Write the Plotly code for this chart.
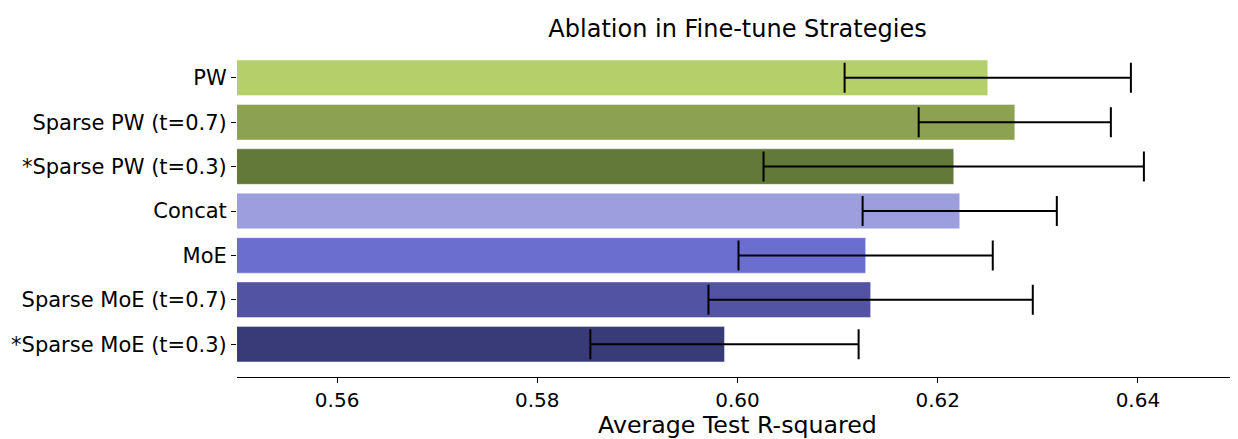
import plotly.graph_objects as go

categories = ["PW", "Sparse PW (t=0.7)", "*Sparse PW (t=0.3)", "Concat", "MoE",
              "Sparse MoE (t=0.7)", "*Sparse MoE (t=0.3)"]
means = [0.6250, 0.6277, 0.6216, 0.6222, 0.6128, 0.6133, 0.5987]
errors = [0.0143, 0.0096, 0.0190, 0.0097, 0.0127, 0.0162, 0.0134]
colors = ["#b5cf6b", "#8ca252", "#637939", "#9c9ede", "#6b6ecf", "#5254a3", "#393b79"]
x_ticks = [0.56, 0.58, 0.60, 0.62, 0.64]
x_tick_labels = ["0.56", "0.58", "0.60", "0.62", "0.64"]

FONT = "DejaVu Sans"

fig = go.Figure()
fig.add_trace(go.Bar(
    y=list(range(len(categories))),
    x=means,
    orientation="h",
    width=0.8,
    marker=dict(color=colors, line=dict(width=0.8, color="rgba(255,255,255,0.5)")),
    error_x=dict(type="data", array=errors, visible=True, color="black",
                 thickness=2, width=15),
    showlegend=False,
))

fig.update_layout(
    width=1230, height=431,
    margin=dict(l=229, r=0, t=37, b=62),
    plot_bgcolor="white", paper_bgcolor="white",
    font=dict(family=FONT, color="black", size=20),
    title=dict(text="Ablation in Fine-tune Strategies", x=0.5931, xanchor="center",
               y=0.952, yanchor="middle", font=dict(size=24, family=FONT)),
    bargap=0.2,
)
fig.update_xaxes(
    range=[0.55, 0.65], tickvals=x_ticks, ticktext=x_tick_labels,
    showline=True, linecolor="black", linewidth=1.2,
    ticks="outside", ticklen=5, tickwidth=1.2, tickcolor="black",
    showgrid=False, zeroline=False,
    tickfont=dict(size=20, family=FONT),
    title=dict(text="Average Test R-squared", font=dict(size=23.7, family=FONT), standoff=4),
)
fig.update_yaxes(
    range=[6.74, -0.74], tickvals=list(range(len(categories))), ticktext=categories,
    showline=False, ticks="outside", ticklen=5, tickwidth=1.2, tickcolor="black",
    showgrid=False, zeroline=False,
    tickfont=dict(size=21, family=FONT),
)

fig.write_html("out.html")
